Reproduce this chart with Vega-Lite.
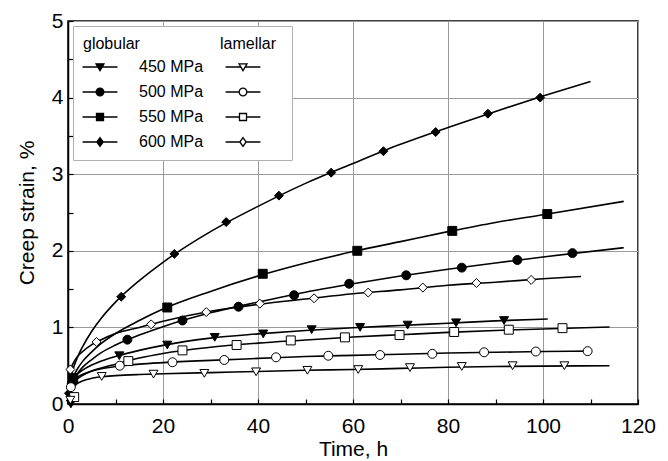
{
  "$schema": "https://vega.github.io/schema/vega-lite/v6.json",
  "autosize": "none",
  "width": 570,
  "height": 383,
  "padding": {"left": 68, "top": 21, "right": 30, "bottom": 57},
  "background": "white",
  "datasets": {
    "pts": [
      {"s":"g600","t":0.2,"v":0.14},{"s":"g600","t":11.2,"v":1.40},{"s":"g600","t":22.4,"v":1.96},{"s":"g600","t":33.3,"v":2.375},{"s":"g600","t":44.4,"v":2.72},{"s":"g600","t":55.4,"v":3.02},{"s":"g600","t":66.4,"v":3.30},{"s":"g600","t":77.4,"v":3.55},{"s":"g600","t":88.4,"v":3.79},{"s":"g600","t":99.4,"v":4.00},
      {"s":"g550","t":1.1,"v":0.34},{"s":"g550","t":20.9,"v":1.26},{"s":"g550","t":41.0,"v":1.70},{"s":"g550","t":60.9,"v":2.00},{"s":"g550","t":80.9,"v":2.26},{"s":"g550","t":100.9,"v":2.48},
      {"s":"g500","t":0.8,"v":0.27},{"s":"g500","t":12.5,"v":0.84},{"s":"g500","t":24.1,"v":1.09},{"s":"g500","t":35.9,"v":1.27},{"s":"g500","t":47.6,"v":1.42},{"s":"g500","t":59.2,"v":1.57},{"s":"g500","t":71.2,"v":1.68},{"s":"g500","t":82.9,"v":1.78},{"s":"g500","t":94.6,"v":1.88},{"s":"g500","t":106.2,"v":1.97},
      {"s":"g450","t":0.6,"v":0.0},{"s":"g450","t":10.8,"v":0.63},{"s":"g450","t":20.9,"v":0.77},{"s":"g450","t":30.9,"v":0.87},{"s":"g450","t":41.1,"v":0.915},{"s":"g450","t":51.3,"v":0.97},{"s":"g450","t":61.5,"v":1.00},{"s":"g450","t":71.5,"v":1.03},{"s":"g450","t":81.7,"v":1.06},{"s":"g450","t":91.8,"v":1.09},
      {"s":"l600","t":0.5,"v":0.45},{"s":"l600","t":6.0,"v":0.81},{"s":"l600","t":17.5,"v":1.04},{"s":"l600","t":29.1,"v":1.20},{"s":"l600","t":40.4,"v":1.31},{"s":"l600","t":51.8,"v":1.38},{"s":"l600","t":63.2,"v":1.455},{"s":"l600","t":74.7,"v":1.52},{"s":"l600","t":86.0,"v":1.58},{"s":"l600","t":97.5,"v":1.62},
      {"s":"l550","t":1.3,"v":0.09},{"s":"l550","t":12.7,"v":0.56},{"s":"l550","t":24.1,"v":0.70},{"s":"l550","t":35.5,"v":0.77},{"s":"l550","t":46.9,"v":0.83},{"s":"l550","t":58.3,"v":0.87},{"s":"l550","t":69.8,"v":0.90},{"s":"l550","t":81.3,"v":0.94},{"s":"l550","t":92.8,"v":0.97},{"s":"l550","t":104.1,"v":0.99},
      {"s":"l500","t":0.6,"v":0.22},{"s":"l500","t":10.9,"v":0.50},{"s":"l500","t":22.0,"v":0.545},{"s":"l500","t":32.9,"v":0.575},{"s":"l500","t":43.8,"v":0.61},{"s":"l500","t":54.8,"v":0.63},{"s":"l500","t":65.7,"v":0.64},{"s":"l500","t":76.7,"v":0.655},{"s":"l500","t":87.6,"v":0.675},{"s":"l500","t":98.5,"v":0.685},{"s":"l500","t":109.4,"v":0.69},
      {"s":"l450","t":0.5,"v":0.05},{"s":"l450","t":7.1,"v":0.36},{"s":"l450","t":18.0,"v":0.39},{"s":"l450","t":28.7,"v":0.40},{"s":"l450","t":39.6,"v":0.42},{"s":"l450","t":50.4,"v":0.44},{"s":"l450","t":61.1,"v":0.45},{"s":"l450","t":72.0,"v":0.475},{"s":"l450","t":82.9,"v":0.49},{"s":"l450","t":93.6,"v":0.50},{"s":"l450","t":104.5,"v":0.50}
    ],
    "curves": [
      {"s":"g600","t":0,"v":0},{"s":"g600","t":0.5,"v":0.31},{"s":"g600","t":1,"v":0.44},{"s":"g600","t":2,"v":0.61},{"s":"g600","t":3,"v":0.74},{"s":"g600","t":5,"v":0.95},{"s":"g600","t":7,"v":1.12},{"s":"g600","t":10,"v":1.33},{"s":"g600","t":15,"v":1.61},{"s":"g600","t":20,"v":1.85},{"s":"g600","t":30,"v":2.25},{"s":"g600","t":40,"v":2.58},{"s":"g600","t":50,"v":2.88},{"s":"g600","t":60,"v":3.14},{"s":"g600","t":70,"v":3.39},{"s":"g600","t":80,"v":3.61},{"s":"g600","t":90,"v":3.82},{"s":"g600","t":100,"v":4.02},{"s":"g600","t":110,"v":4.21},
      {"s":"g550","t":0,"v":0},{"s":"g550","t":0.5,"v":0.25},{"s":"g550","t":1,"v":0.34},{"s":"g550","t":2,"v":0.46},{"s":"g550","t":3,"v":0.55},{"s":"g550","t":5,"v":0.68},{"s":"g550","t":7,"v":0.79},{"s":"g550","t":10,"v":0.92},{"s":"g550","t":15,"v":1.09},{"s":"g550","t":20,"v":1.24},{"s":"g550","t":30,"v":1.47},{"s":"g550","t":40,"v":1.67},{"s":"g550","t":50,"v":1.84},{"s":"g550","t":60,"v":1.99},{"s":"g550","t":70,"v":2.12},{"s":"g550","t":80,"v":2.25},{"s":"g550","t":90,"v":2.37},{"s":"g550","t":100,"v":2.47},{"s":"g550","t":117,"v":2.645},
      {"s":"g500","t":0,"v":0},{"s":"g500","t":0.5,"v":0.23},{"s":"g500","t":1,"v":0.31},{"s":"g500","t":2,"v":0.40},{"s":"g500","t":3,"v":0.475},{"s":"g500","t":5,"v":0.58},{"s":"g500","t":7,"v":0.67},{"s":"g500","t":10,"v":0.77},{"s":"g500","t":15,"v":0.90},{"s":"g500","t":20,"v":1.01},{"s":"g500","t":30,"v":1.19},{"s":"g500","t":40,"v":1.33},{"s":"g500","t":50,"v":1.46},{"s":"g500","t":60,"v":1.57},{"s":"g500","t":70,"v":1.67},{"s":"g500","t":80,"v":1.76},{"s":"g500","t":90,"v":1.84},{"s":"g500","t":100,"v":1.92},{"s":"g500","t":117,"v":2.04},
      {"s":"g450","t":0,"v":0},{"s":"g450","t":0.5,"v":0.25},{"s":"g450","t":1,"v":0.31},{"s":"g450","t":2,"v":0.39},{"s":"g450","t":3,"v":0.44},{"s":"g450","t":5,"v":0.51},{"s":"g450","t":7,"v":0.56},{"s":"g450","t":10,"v":0.62},{"s":"g450","t":15,"v":0.70},{"s":"g450","t":20,"v":0.765},{"s":"g450","t":30,"v":0.86},{"s":"g450","t":40,"v":0.915},{"s":"g450","t":50,"v":0.96},{"s":"g450","t":60,"v":0.995},{"s":"g450","t":70,"v":1.025},{"s":"g450","t":80,"v":1.055},{"s":"g450","t":90,"v":1.085},{"s":"g450","t":101,"v":1.11},
      {"s":"l600","t":0,"v":0},{"s":"l600","t":0.5,"v":0.44},{"s":"l600","t":1,"v":0.52},{"s":"l600","t":2,"v":0.62},{"s":"l600","t":3,"v":0.68},{"s":"l600","t":5,"v":0.775},{"s":"l600","t":7,"v":0.84},{"s":"l600","t":10,"v":0.92},{"s":"l600","t":15,"v":1.00},{"s":"l600","t":20,"v":1.08},{"s":"l600","t":30,"v":1.21},{"s":"l600","t":40,"v":1.30},{"s":"l600","t":50,"v":1.37},{"s":"l600","t":60,"v":1.44},{"s":"l600","t":70,"v":1.49},{"s":"l600","t":80,"v":1.55},{"s":"l600","t":90,"v":1.59},{"s":"l600","t":100,"v":1.635},{"s":"l600","t":108,"v":1.665},
      {"s":"l550","t":0,"v":0},{"s":"l550","t":0.5,"v":0.2},{"s":"l550","t":1,"v":0.27},{"s":"l550","t":2,"v":0.33},{"s":"l550","t":3,"v":0.37},{"s":"l550","t":5,"v":0.43},{"s":"l550","t":7,"v":0.47},{"s":"l550","t":10,"v":0.52},{"s":"l550","t":15,"v":0.60},{"s":"l550","t":20,"v":0.66},{"s":"l550","t":30,"v":0.74},{"s":"l550","t":40,"v":0.795},{"s":"l550","t":50,"v":0.835},{"s":"l550","t":60,"v":0.875},{"s":"l550","t":70,"v":0.905},{"s":"l550","t":80,"v":0.935},{"s":"l550","t":90,"v":0.96},{"s":"l550","t":100,"v":0.98},{"s":"l550","t":114,"v":1.005},
      {"s":"l500","t":0,"v":0},{"s":"l500","t":0.5,"v":0.2},{"s":"l500","t":1,"v":0.28},{"s":"l500","t":2,"v":0.35},{"s":"l500","t":3,"v":0.385},{"s":"l500","t":5,"v":0.43},{"s":"l500","t":7,"v":0.46},{"s":"l500","t":10,"v":0.49},{"s":"l500","t":15,"v":0.52},{"s":"l500","t":20,"v":0.54},{"s":"l500","t":30,"v":0.57},{"s":"l500","t":40,"v":0.595},{"s":"l500","t":50,"v":0.62},{"s":"l500","t":60,"v":0.635},{"s":"l500","t":70,"v":0.65},{"s":"l500","t":80,"v":0.665},{"s":"l500","t":90,"v":0.675},{"s":"l500","t":100,"v":0.685},{"s":"l500","t":109.5,"v":0.69},
      {"s":"l450","t":0,"v":0},{"s":"l450","t":0.5,"v":0.15},{"s":"l450","t":1,"v":0.21},{"s":"l450","t":2,"v":0.27},{"s":"l450","t":3,"v":0.30},{"s":"l450","t":5,"v":0.335},{"s":"l450","t":7,"v":0.355},{"s":"l450","t":10,"v":0.37},{"s":"l450","t":15,"v":0.385},{"s":"l450","t":20,"v":0.395},{"s":"l450","t":30,"v":0.41},{"s":"l450","t":40,"v":0.425},{"s":"l450","t":50,"v":0.44},{"s":"l450","t":60,"v":0.45},{"s":"l450","t":70,"v":0.465},{"s":"l450","t":80,"v":0.48},{"s":"l450","t":90,"v":0.49},{"s":"l450","t":100,"v":0.495},{"s":"l450","t":114,"v":0.50}
    ]
  },
  "encoding": {
    "x": {
      "field": "t", "type": "quantitative",
      "scale": {"domain": [0, 120], "nice": false, "zero": false},
      "axis": {
        "title": "Time, h",
        "values": [0,10,20,30,40,50,60,70,80,90,100,110,120],
        "labelExpr": "datum.value % 20 == 0 ? format(datum.value, 'd') : ''",
        "gridOpacity": {"condition": {"test": "datum.value % 20 != 0", "value": 0}, "value": 1},
        "labelFlush": false,
        "labelPadding": 16,
        "titlePadding": 2
      }
    },
    "y": {
      "field": "v", "type": "quantitative",
      "scale": {"domain": [0, 5], "nice": false},
      "axis": {
        "title": "Creep strain, %",
        "values": [0,0.5,1,1.5,2,2.5,3,3.5,4,4.5,5],
        "labelExpr": "datum.value % 1 == 0 ? format(datum.value, 'd') : ''",
        "gridOpacity": {"condition": {"test": "datum.value % 1 != 0", "value": 0}, "value": 1},
        "labelFlush": false,
        "labelPadding": 10,
        "titlePadding": 14
      }
    }
  },
  "layer": [
    {
      "data": {"name": "curves"},
      "mark": {"type": "line", "interpolate": "monotone", "stroke": "black", "strokeWidth": 1.6},
      "encoding": {"detail": {"field": "s", "type": "nominal"}}
    },
    {
      "data": {"name": "pts"},
      "mark": {"type": "point", "filled": true, "stroke": "black", "strokeWidth": 1, "size": 80, "opacity": 1},
      "encoding": {
        "shape": {
          "condition": [
            {"test": "datum.s == 'g450' || datum.s == 'l450'", "value": "triangle-down"},
            {"test": "datum.s == 'g500' || datum.s == 'l500'", "value": "circle"},
            {"test": "datum.s == 'g550' || datum.s == 'l550'", "value": "square"}
          ],
          "value": "diamond"
        },
        "fill": {
          "condition": {"test": "substring(datum.s, 0, 1) == 'g'", "value": "black"},
          "value": "white"
        }
      }
    },
    {
      "data": {"name": "pts"},
      "mark": {"type": "point", "filled": true, "strokeWidth": 1.3, "opacity": 0},
      "encoding": {
        "shape": {
          "field": "s", "type": "nominal",
          "scale": {
            "domain": ["g450","l450","g500","l500","g550","l550","g600","l600"],
            "range": [
              "M-0.25,-0.2L0.25,-0.2L0,0.23Z M-1.09,0H-0.134 M0.134,0H1.09",
              "M-0.25,-0.2L0.25,-0.2L0,0.23Z M-1.09,0H-0.134 M0.134,0H1.09",
              "M-0.24,0A0.24,0.24 0 1,0 0.24,0A0.24,0.24 0 1,0 -0.24,0Z M-1.09,0H-0.24 M0.24,0H1.09",
              "M-0.24,0A0.24,0.24 0 1,0 0.24,0A0.24,0.24 0 1,0 -0.24,0Z M-1.09,0H-0.24 M0.24,0H1.09",
              "M-0.22,-0.22H0.22V0.22H-0.22Z M-1.09,0H-0.22 M0.22,0H1.09",
              "M-0.22,-0.22H0.22V0.22H-0.22Z M-1.09,0H-0.22 M0.22,0H1.09",
              "M0,-0.27L0.2,0L0,0.27L-0.2,0Z M-1.09,0H-0.2 M0.2,0H1.09",
              "M0,-0.27L0.2,0L0,0.27L-0.2,0Z M-1.09,0H-0.2 M0.2,0H1.09"
            ]
          },
          "legend": {
            "title": "globular\u00a0\u00a0\u00a0\u00a0\u00a0\u00a0\u00a0\u00a0\u00a0\u00a0\u00a0\u00a0\u00a0\u00a0\u00a0\u00a0\u00a0\u00a0lamellar",
            "orient": "top-left",
            "direction": "horizontal",
            "offset": 5,
            "columns": 2,
            "labelExpr": "substring(datum.value, 0, 1) == 'g' ? substring(datum.value, 1) + ' MPa' : ''",
            "symbolSize": 1024,
            "symbolOpacity": 1,
            "symbolStrokeWidth": 1.3,
            "labelOffset": 22,
            "columnPadding": 18,
            "rowPadding": -2.2,
            "padding": 10,
            "titlePadding": -2,
            "titleLimit": 400,
            "fillColor": "white",
            "strokeColor": "#b0b0b0"
          }
        },
        "fill": {
          "field": "s", "type": "nominal",
          "scale": {
            "domain": ["g450","l450","g500","l500","g550","l550","g600","l600"],
            "range": ["black","white","black","white","black","white","black","white"]
          }
        },
        "stroke": {
          "field": "s", "type": "nominal",
          "scale": {
            "domain": ["g450","l450","g500","l500","g550","l550","g600","l600"],
            "range": ["black","black","black","black","black","black","black","black"]
          }
        }
      }
    }
  ],
  "config": {
    "font": "Liberation Sans",
    "view": {"stroke": "black", "strokeWidth": 1.5},
    "axis": {
      "domainColor": "black", "domainWidth": 1.5,
      "tickColor": "black", "tickWidth": 1.2, "tickSize": -5,
      "gridColor": "#9a9a9a", "gridWidth": 1,
      "labelFontSize": 21, "labelColor": "black",
      "titleFontSize": 21, "titleFontWeight": "normal", "titleColor": "black"
    },
    "legend": {
      "labelFontSize": 16, "labelColor": "black",
      "titleFontSize": 16, "titleFontWeight": "normal", "titleColor": "black"
    }
  }
}
